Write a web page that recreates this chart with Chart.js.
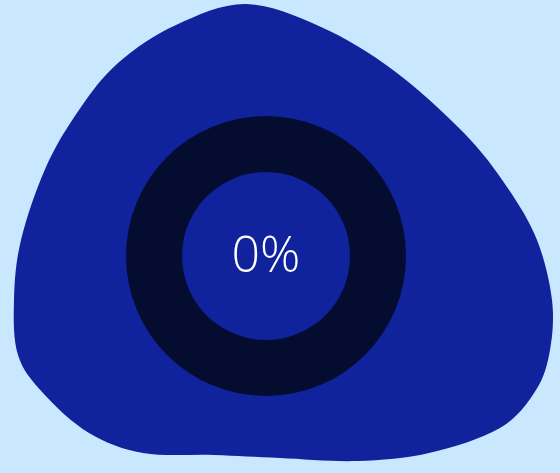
<!DOCTYPE html>
<html>
<head>
<meta charset="utf-8">
<script src="https://cdn.jsdelivr.net/npm/chart.js@4/dist/chart.umd.min.js"></script>
<style>
  html, body { margin: 0; padding: 0; background: #c9e7fe; }
  #wrap { width: 560px; height: 473px; }
</style>
</head>
<body>
<div id="wrap"><canvas id="grafica"></canvas></div>
<script>
const etiquetas = ['Completado', 'Restante'];
const valores = [0, 100];
const colores = ['#4f7cff', '#040c30'];
const textoCentro = valores[0] + '%';

// contorno de la mancha de fondo
const manchaPuntos = [
    [246, 4], [321, 27], [393, 70], [464, 133], [507, 187], [537, 240],
    [552, 300], [550, 350], [536, 390], [500, 428], [429, 453], [357, 461],
    [280, 458], [214, 455], [143, 453], [89, 433], [43, 393], [18, 355],
    [14, 300], [21, 240], [46, 167], [79, 110], [118, 63], [176, 25]
];

const pluginMancha = {
    id: 'mancha',
    beforeDraw(chart) {
        const ctx = chart.ctx;
        const p = manchaPuntos;
        const n = p.length;
        ctx.save();
        ctx.fillStyle = '#11229d';
        ctx.beginPath();
        ctx.moveTo(p[0][0], p[0][1]);
        for (let i = 0; i < n; i++) {
            const p0 = p[(i - 1 + n) % n], p1 = p[i], p2 = p[(i + 1) % n], p3 = p[(i + 2) % n];
            ctx.bezierCurveTo(
                p1[0] + (p2[0] - p0[0]) / 6, p1[1] + (p2[1] - p0[1]) / 6,
                p2[0] - (p3[0] - p1[0]) / 6, p2[1] - (p3[1] - p1[1]) / 6,
                p2[0], p2[1]
            );
        }
        ctx.closePath();
        ctx.fill();
        ctx.restore();
    }
};

const pluginTexto = {
    id: 'textoCentro',
    afterDraw(chart) {
        const meta = chart.getDatasetMeta(0).data[0];
        const ctx = chart.ctx;
        ctx.save();
        ctx.fillStyle = '#ffffff';
        ctx.font = '300 50px "Open Sans", sans-serif';
        ctx.textAlign = 'center';
        ctx.textBaseline = 'middle';
        ctx.fillText(textoCentro, meta.x, meta.y + 2);
        ctx.restore();
    }
};

new Chart(document.getElementById('grafica').getContext('2d'), {
    type: 'doughnut',
    data: {
        labels: etiquetas,
        datasets: [{ data: valores, backgroundColor: colores, borderWidth: 0 }]
    },
    options: {
        responsive: true,
        maintainAspectRatio: false,
        animation: false,
        cutout: '60%',
        layout: { padding: { left: 126, right: 154, top: 116, bottom: 77 } },
        plugins: { legend: { display: false }, tooltip: { enabled: false } }
    },
    plugins: [pluginMancha, pluginTexto]
});
</script>
</body>
</html>
